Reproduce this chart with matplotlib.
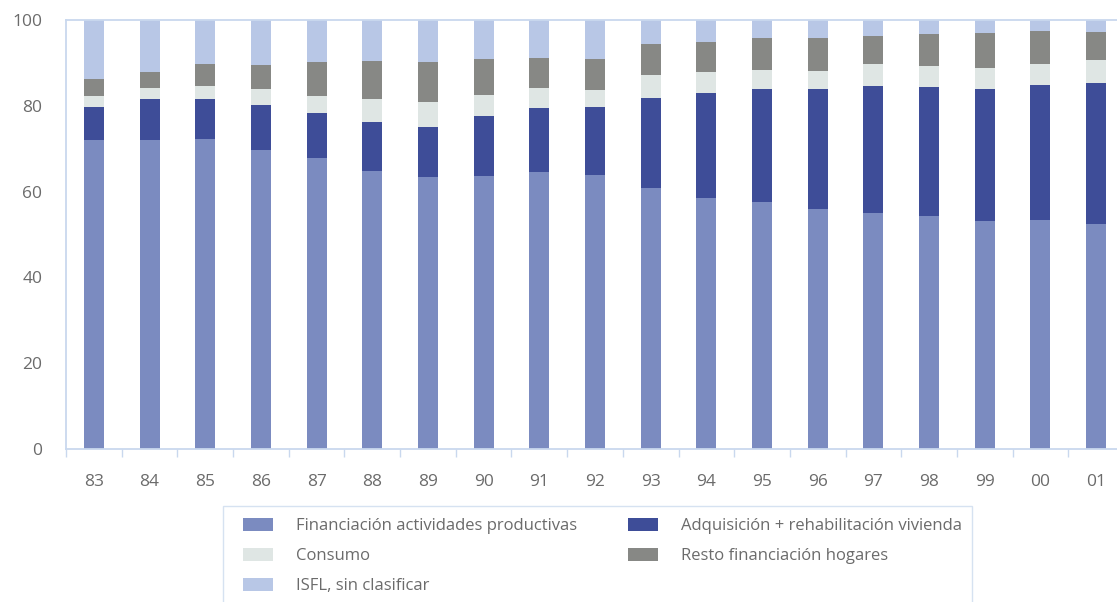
import matplotlib
matplotlib.use("Agg")
import matplotlib.pyplot as plt
from matplotlib.patches import Patch, Rectangle
import numpy as np

years = ['83', '84', '85', '86', '87', '88', '89', '90', '91', '92',
         '93', '94', '95', '96', '97', '98', '99', '00', '01']

financiacion = [72.1, 72.1, 72.2, 69.8, 67.8, 64.8, 63.3, 63.6, 64.6, 63.9,
                60.8, 58.4, 57.5, 56.0, 55.1, 54.3, 53.2, 53.3, 52.4]
adquisicion = [7.6, 9.4, 9.3, 10.3, 10.5, 11.5, 11.7, 14.0, 15.0, 15.9,
               21.1, 24.5, 26.3, 27.8, 29.4, 30.0, 30.7, 31.5, 32.8]
consumo = [2.6, 2.7, 3.1, 3.7, 4.1, 5.3, 5.8, 4.9, 4.5, 3.9,
           5.2, 4.9, 4.5, 4.4, 5.2, 4.9, 5.0, 5.0, 5.5]
resto = [3.9, 3.7, 5.2, 5.6, 7.7, 8.9, 9.3, 8.5, 7.0, 7.2,
         7.4, 7.0, 7.5, 7.7, 6.5, 7.6, 8.0, 7.7, 6.6]
isfl = [13.8, 12.1, 10.2, 10.6, 9.9, 9.5, 9.9, 9.0, 8.9, 9.1,
        5.5, 5.2, 4.2, 4.1, 3.8, 3.2, 3.1, 2.5, 2.7]

labels = ['Financiación actividades productivas',
          'Adquisición + rehabilitación vivienda',
          'Consumo',
          'Resto financiación hogares',
          'ISFL, sin clasificar']
colors = ['#7b8bc0', '#3e4d98', '#dfe6e4', '#878885', '#b8c7e6']
yticks = [0, 20, 40, 60, 80, 100]

plt.rcParams['font.family'] = ['Open Sans', 'DejaVu Sans']
text_color = '#6b6b6b'
axis_color = '#c9d8ee'

W, H = 1117, 602
fig = plt.figure(figsize=(W / 100, H / 100), dpi=100)

left_px, right_px, top_px, bottom_px = 66, 1124, 20, 449
ax = fig.add_axes([left_px / W, 1 - bottom_px / H,
                   (right_px - left_px) / W, (bottom_px - top_px) / H])

x = np.arange(len(years))
series = [financiacion, adquisicion, consumo, resto, isfl]
bottom = np.zeros(len(years))
handles = {}
for vals, lab, col in zip(series, labels, colors):
    ax.bar(x, vals, width=0.36, bottom=bottom, color=col, edgecolor='none')
    handles[lab] = Patch(facecolor=col, edgecolor='none')
    bottom += np.array(vals)

ax.set_xlim(-0.5, len(years) - 0.5)
ax.set_ylim(0, 100)

ax.set_xticks(x)
ax.set_xticklabels(years)
ax.set_xticks(np.arange(-0.5, len(years), 1.0), minor=True)
ax.tick_params(axis='x', which='major', length=0, pad=18,
               labelsize=12.5, labelcolor=text_color)
ax.tick_params(axis='x', which='minor', length=6, width=1, color=axis_color)

ax.set_yticks(yticks)
ax.tick_params(axis='y', length=0, pad=17, labelsize=12.5, labelcolor=text_color)

for side in ['left', 'bottom', 'top']:
    ax.spines[side].set_color(axis_color)
    ax.spines[side].set_linewidth(1.3)
ax.spines['right'].set_visible(False)

# legend frame (runs past the lower figure edge)
fig.patches.append(Rectangle((223 / W, -0.05), (972 - 223) / W,
                             1 - 506 / H + 0.05, transform=fig.transFigure,
                             facecolor='none', edgecolor='#d6e2f1',
                             linewidth=1.0))

fs = 12.0
fpx = fs * 100 / 72
order = [labels[0], labels[2], labels[4], labels[1], labels[3]]
fig.legend([handles[l] for l in order], order, loc='upper left',
           bbox_to_anchor=(243 / W, 1 - 518 / H), ncol=2, frameon=False,
           fontsize=fs, labelcolor=text_color, borderpad=0, borderaxespad=0,
           handlelength=30 / fpx, handleheight=14 / fpx,
           handletextpad=23 / fpx, columnspacing=51 / fpx, labelspacing=0.82)

fig.savefig('out.png', dpi=100, facecolor='white')
